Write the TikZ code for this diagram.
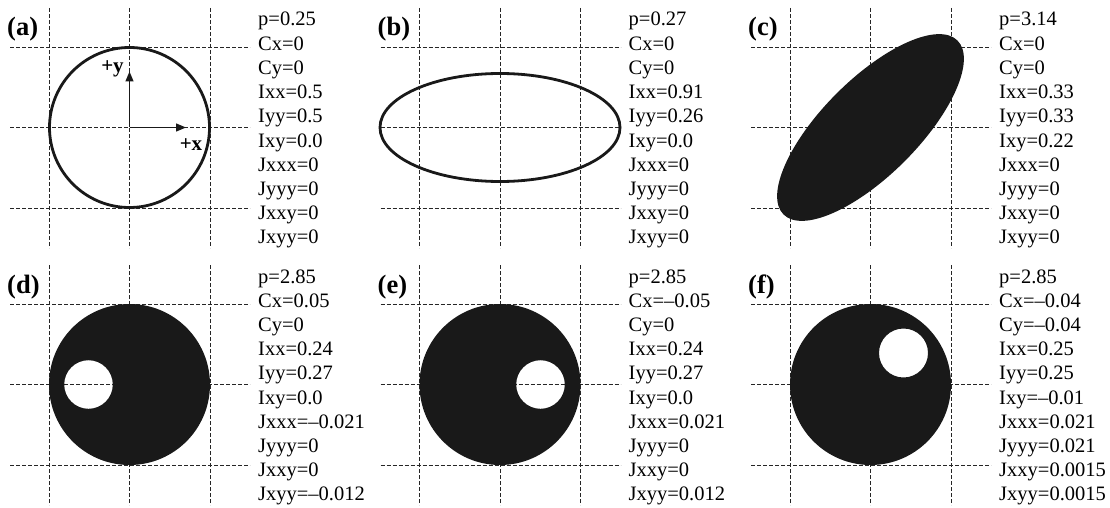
\documentclass[tikz,border=0pt]{standalone}
\usepackage{fontspec}
\setmainfont{Liberation Serif}
\usetikzlibrary{arrows.meta}

\tikzset{
  gridline/.style={black!85, line width=0.7pt, dash pattern=on 4pt off 2pt},
  proptext/.style={anchor=base west, inner sep=0pt, font=\fontsize{20.5}{24}\selectfont},
  panellabel/.style={anchor=base west, inner sep=0pt, font=\fontsize{26.5}{30}\selectfont\bfseries},
  axislabel/.style={inner sep=0pt, font=\fontsize{21}{24}\selectfont\bfseries},
  axisarrow/.style={black!90, line width=1.3pt, -{Triangle[length=10pt,width=8pt]}},
  outline/.style={draw=black!90, line width=2.8pt},
  solidbody/.style={fill=black!90},
}

\newcommand{\panelgrid}[1]{%
  \draw[gridline] (49,8) -- (49,248);
  \draw[gridline] (129.5,8) -- (129.5,248);
  \draw[gridline] (210,8) -- (210,248);
  \draw[gridline] (10,47) -- (250,47);
  \draw[gridline] (10,127.5) -- (250,127.5);
  \draw[gridline] (10,208) -- (250,208);
  \node[panellabel] (#1-lbl) at (7,36) {(#1)};
}
\newcommand{\props}[2]{%
  \foreach \s [count=\n from 0] in {#2}
    \node[proptext] (#1-\n) at (258,26+24.2*\n) {\s};
}

\begin{document}
\begin{tikzpicture}[x=1pt,y=-1pt]
\useasboundingbox (0,0) rectangle (1110,508);

\begin{scope}[shift={(0,0)}]
  \panelgrid{a}
  \draw[outline] (129.5,127.5) circle [radius=80];
  \coordinate (a-o) at (129.5,127.5);
  \coordinate (a-x) at (186,127.5);
  \coordinate (a-y) at (129.5,71.5);
  \draw[axisarrow] (a-o) -- (a-x);
  \draw[axisarrow] (a-o) -- (a-y);
  \node[axislabel] (a-xl) at (191,145) {+x};
  \node[axislabel] (a-yl) at (112.5,69) {+y};
  \props{a}{p=0.25, Cx=0, Cy=0, Ixx=0.5, Iyy=0.5, Ixy=0.0, Jxxx=0, Jyyy=0, Jxxy=0, Jxyy=0}
\end{scope}

\begin{scope}[shift={(370.5,0)}]
  \panelgrid{b}
  \draw[outline] (129.5,127.5) ellipse [x radius=120, y radius=54];
  \props{b}{p=0.27, Cx=0, Cy=0, Ixx=0.91, Iyy=0.26, Ixy=0.0, Jxxx=0, Jyyy=0, Jxxy=0, Jxyy=0}
\end{scope}

\begin{scope}[shift={(741,0)}]
  \panelgrid{c}
  \begin{scope}[shift={(129.5,127.5)}, rotate=45]
    \fill[solidbody] (0,0) ellipse [x radius=123, y radius=48];
  \end{scope}
  \props{c}{p=3.14, Cx=0, Cy=0, Ixx=0.33, Iyy=0.33, Ixy=0.22, Jxxx=0, Jyyy=0, Jxxy=0, Jxyy=0}
\end{scope}

\begin{scope}[shift={(0,257)}]
  \panelgrid{d}
  \fill[solidbody, even odd rule] (129.5,127.5) circle [radius=80.5]
    (88.5,127.5) circle [radius=24.3];
  \props{d}{p=2.85, Cx=0.05, Cy=0, Ixx=0.24, Iyy=0.27, Ixy=0.0, Jxxx=–0.021, Jyyy=0, Jxxy=0, Jxyy=–0.012}
\end{scope}

\begin{scope}[shift={(370.5,257)}]
  \panelgrid{e}
  \fill[solidbody, even odd rule] (129.5,127.5) circle [radius=80.5]
    (170,127.5) circle [radius=24.3];
  \props{e}{p=2.85, Cx=–0.05, Cy=0, Ixx=0.24, Iyy=0.27, Ixy=0.0, Jxxx=0.021, Jyyy=0, Jxxy=0, Jxyy=0.012}
\end{scope}

\begin{scope}[shift={(741,257)}]
  \panelgrid{f}
  \fill[solidbody, even odd rule] (129.5,127.5) circle [radius=80.5]
    (162.5,96) circle [radius=24.5];
  \props{f}{p=2.85, Cx=–0.04, Cy=–0.04, Ixx=0.25, Iyy=0.25, Ixy=–0.01, Jxxx=0.021, Jyyy=0.021, Jxxy=0.0015, Jxyy=0.0015}
\end{scope}
\end{tikzpicture}
\end{document}
